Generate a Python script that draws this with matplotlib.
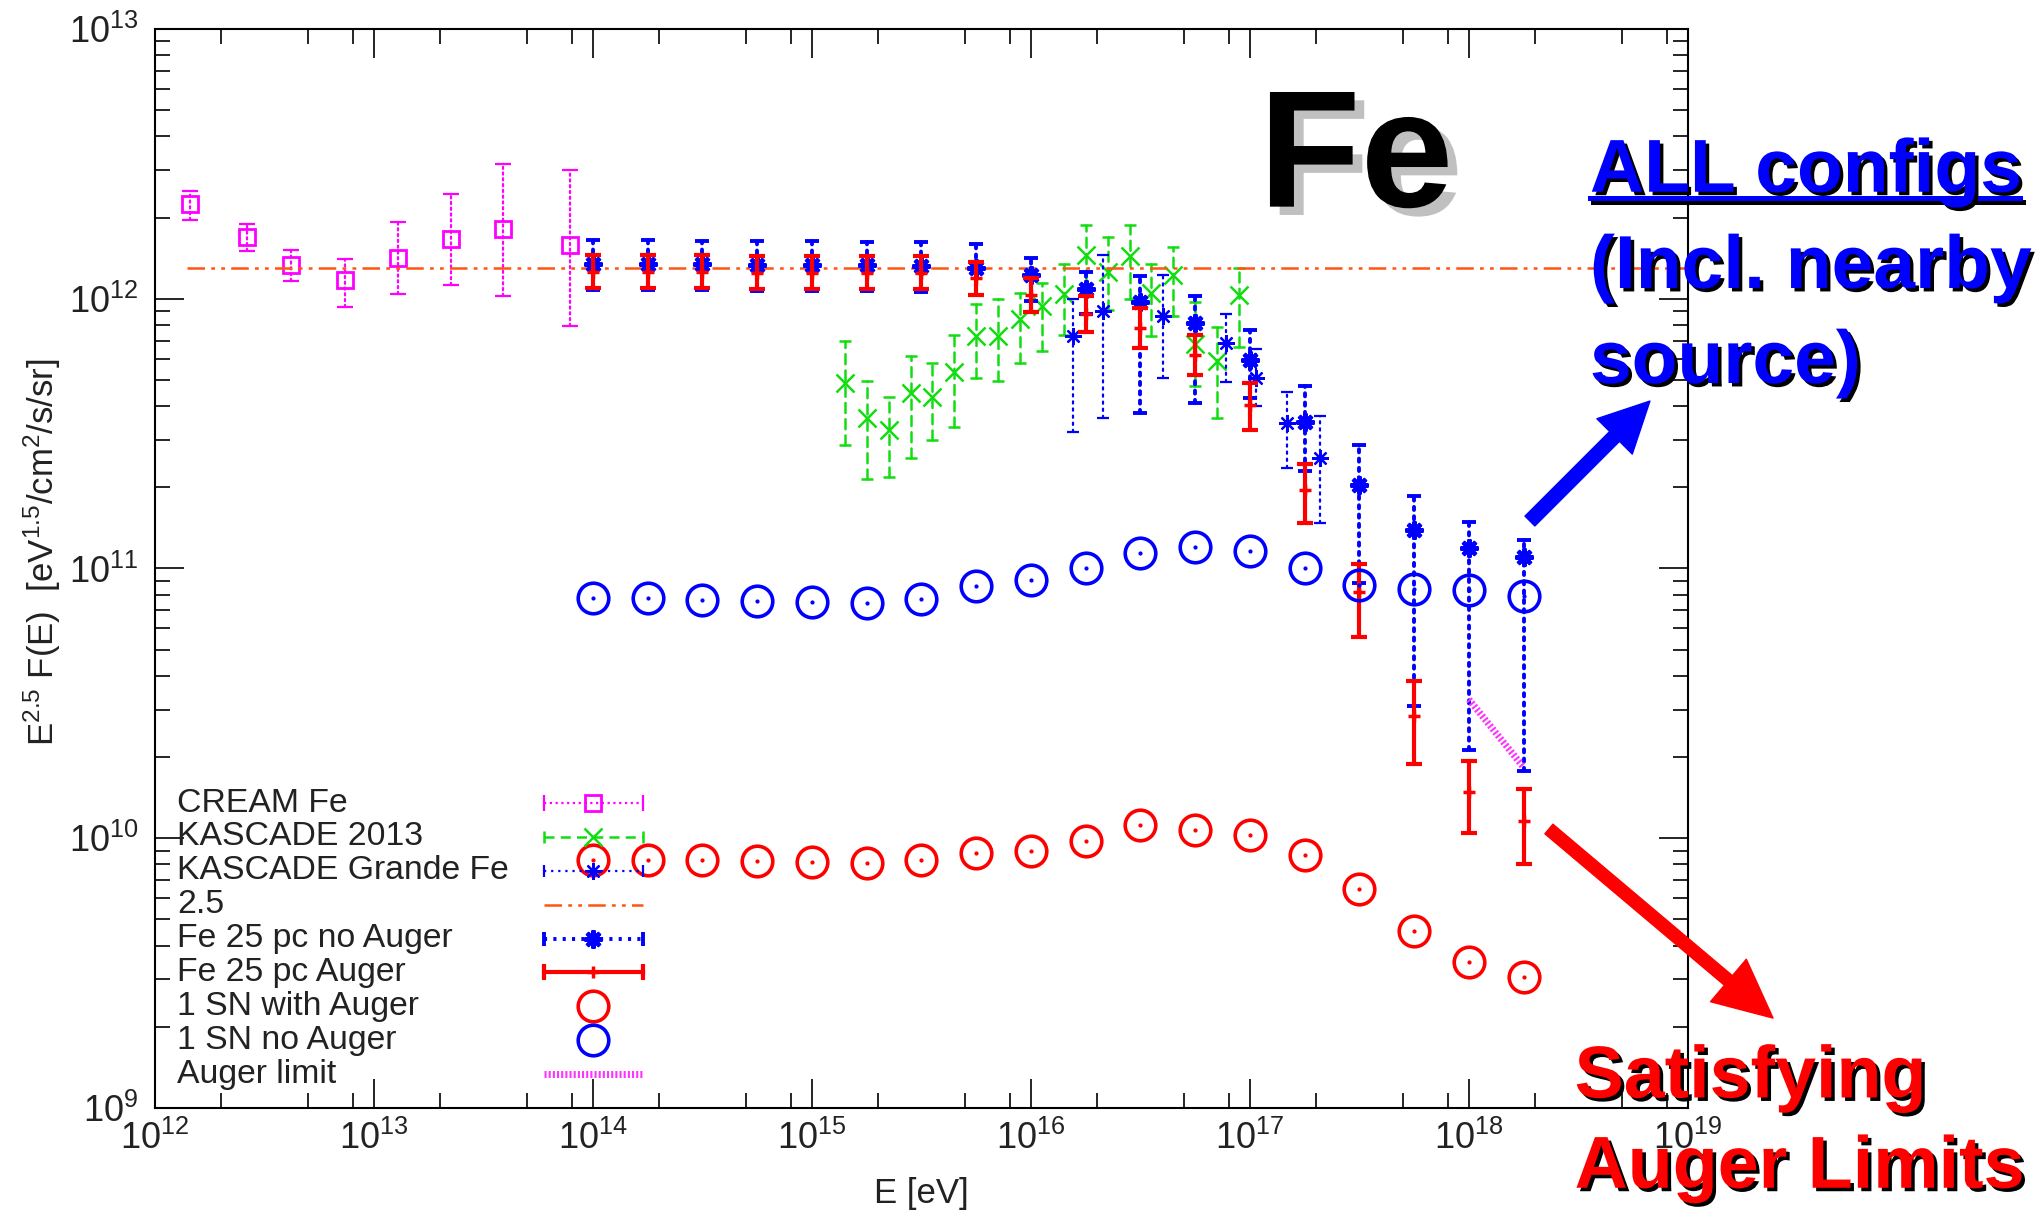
import numpy as np
import matplotlib
matplotlib.use("Agg")
import matplotlib.pyplot as plt
import matplotlib.patheffects as pe
from matplotlib.lines import Line2D
from matplotlib.patches import FancyArrowPatch
from matplotlib.ticker import LogLocator, NullFormatter

plt.rcParams['font.family'] = ['Liberation Sans', 'DejaVu Sans']
plt.rcParams['mathtext.fontset'] = 'custom'
plt.rcParams['mathtext.rm'] = 'Liberation Sans'
plt.rcParams['mathtext.it'] = 'Liberation Sans:italic'
plt.rcParams['mathtext.bf'] = 'Liberation Sans:bold'

# ===== 1. data =====
cream_E = [1.45e12, 2.63e12, 4.2e12, 7.4e12, 1.29e13, 2.24e13, 3.87e13, 7.9e13]
cream_F = [2.24e12, 1.69e12, 1.33e12, 1.17e12, 1.42e12, 1.67e12, 1.82e12, 1.58e12]
cream_lo = [1.95e12, 1.50e12, 1.16e12, 0.93e12, 1.04e12, 1.12e12, 1.02e12, 0.79e12]
cream_hi = [2.51e12, 1.89e12, 1.51e12, 1.40e12, 1.92e12, 2.45e12, 3.16e12, 2.99e12]

kas_E = [1.41e15, 1.78e15, 2.24e15, 2.82e15, 3.55e15, 4.47e15, 5.62e15, 7.08e15, 8.91e15,
         1.12e16, 1.41e16, 1.78e16, 2.24e16, 2.82e16, 3.55e16, 4.47e16, 5.62e16, 7.08e16, 8.91e16]
kas_F = [4.89e11, 3.6e11, 3.27e11, 4.47e11, 4.34e11, 5.37e11, 7.25e11, 7.28e11, 8.4e11,
         9.4e11, 1.04e12, 1.45e12, 1.26e12, 1.44e12, 1.05e12, 1.22e12, 6.8e11, 5.9e11, 1.03e12]
kas_lo = [2.87e11, 2.15e11, 2.19e11, 2.57e11, 3.0e11, 3.36e11, 5.1e11, 4.96e11, 5.8e11,
          6.4e11, 7.35e11, 1.02e12, 9.1e11, 1.0e12, 7.25e11, 8.6e11, 4.73e11, 3.6e11, 6.65e11]
kas_hi = [7.0e11, 4.97e11, 4.34e11, 6.14e11, 5.8e11, 7.35e11, 9.6e11, 1.0e12, 1.05e12,
          1.14e12, 1.35e12, 1.88e12, 1.7e12, 1.88e12, 1.35e12, 1.56e12, 9.75e11, 7.88e11, 1.3e12]

grande_E = [1.55e16, 2.13e16, 4.0e16, 7.76e16, 1.07e17, 1.48e17, 2.08e17]
grande_F = [7.3e11, 9.0e11, 8.6e11, 6.84e11, 5.1e11, 3.46e11, 2.57e11]
grande_lo = [3.2e11, 3.6e11, 5.1e11, 4.9e11, 4.0e11, 2.36e11, 1.48e11]
grande_hi = [1.0e12, 1.45e12, 1.22e12, 8.8e11, 6.5e11, 4.5e11, 3.67e11]

index_E = [1.4e12, 1.0e19]
index_F = [1.3e12, 1.3e12]

model_E = [1.0e14, 1.78e14, 3.16e14, 5.62e14, 1.0e15, 1.78e15, 3.16e15, 5.62e15, 1.0e16,
           1.78e16, 3.16e16, 5.62e16, 1.0e17, 1.78e17, 3.16e17, 5.62e17, 1.0e18, 1.78e18]

noaug_F = [1.35e12, 1.35e12, 1.34e12, 1.33e12, 1.33e12, 1.33e12, 1.32e12, 1.30e12, 1.22e12,
           1.09e12, 9.75e11, 8.1e11, 5.93e11, 3.5e11, 2.04e11, 1.39e11, 1.19e11, 1.10e11]
noaug_lo = [1.08e12, 1.08e12, 1.08e12, 1.07e12, 1.07e12, 1.07e12, 1.06e12, 1.03e12, 9.8e11,
            8.8e11, 3.77e11, 4.1e11, 4.3e11, 2.3e11, 8.8e10, 3.1e10, 2.13e10, 1.77e10]
noaug_hi = [1.65e12, 1.65e12, 1.64e12, 1.63e12, 1.63e12, 1.62e12, 1.62e12, 1.60e12, 1.41e12,
            1.26e12, 1.21e12, 1.02e12, 7.66e11, 4.73e11, 2.87e11, 1.85e11, 1.49e11, 1.28e11]

aug_F = [1.26e12, 1.26e12, 1.26e12, 1.25e12, 1.25e12, 1.25e12, 1.25e12, 1.19e12, 1.03e12,
         8.8e11, 7.78e11, 6.2e11, 4.05e11, 1.96e11, 8.2e10, 2.85e10, 1.48e10, 1.16e10]
aug_lo = [1.10e12, 1.10e12, 1.10e12, 1.09e12, 1.09e12, 1.09e12, 1.09e12, 1.03e12, 8.95e11,
          7.55e11, 6.55e11, 5.23e11, 3.27e11, 1.48e11, 5.56e10, 1.88e10, 1.05e10, 8.0e9]
aug_hi = [1.45e12, 1.45e12, 1.45e12, 1.44e12, 1.44e12, 1.44e12, 1.44e12, 1.37e12, 1.19e12,
          1.02e12, 9.2e11, 7.35e11, 4.87e11, 2.43e11, 1.04e11, 3.82e10, 1.93e10, 1.52e10]

sn_aug_F = [8.3e9, 8.3e9, 8.3e9, 8.24e9, 8.15e9, 8.1e9, 8.3e9, 8.8e9, 9.0e9,
            9.8e9, 1.12e10, 1.07e10, 1.03e10, 8.7e9, 6.46e9, 4.52e9, 3.47e9, 3.07e9]
sn_noaug_F = [7.8e10, 7.8e10, 7.67e10, 7.6e10, 7.54e10, 7.48e10, 7.73e10, 8.63e10, 9.1e10,
              1.0e11, 1.14e11, 1.2e11, 1.16e11, 1.0e11, 8.7e10, 8.41e10, 8.35e10, 7.94e10]

auger_E = [1.0e18, 1.78e18]
auger_F = [3.27e10, 1.83e10]

labels = ["CREAM Fe", "KASCADE 2013", "KASCADE Grande Fe", "2.5", "Fe 25 pc no Auger",
          "Fe 25 pc Auger", "1 SN with Auger", "1 SN no Auger", "Auger limit"]

# ===== 2. styles =====
MAG = '#ff00ff'
GRN = '#11dd11'
BLU = '#0000ff'
RED = '#ff0000'
ORG = '#ff5511'
ASTER = (8, 2, 0)
TXT = '#222222'

fig = plt.figure(figsize=(20.41, 12.12), dpi=100)
ax = fig.add_axes([0.0759, 0.0858, 0.7511, 0.8903])
ax.set_xscale('log')
ax.set_yscale('log')
ax.set_xlim(1e12, 1e19)
ax.set_ylim(1e9, 1e13)


def err_series(E, F, lo, hi, color, ls, lw, cap, marker, ms, mew, z):
    F = np.array(F)
    yerr = [F - np.array(lo), np.array(hi) - F]
    _, caps, bars = ax.errorbar(E, F, yerr=yerr, fmt='none', ecolor=color,
                                elinewidth=lw, capsize=cap, capthick=lw, zorder=z)
    bars[0].set_linestyle(ls)
    bars[0].set_capstyle('round')
    ax.plot(E, F, linestyle='none', marker=marker, ms=ms, mew=mew, mec=color,
            mfc='none', zorder=z)


# ===== 3. plot =====
err_series(cream_E, cream_F, cream_lo, cream_hi, MAG, (0, (1, 1.6)), 1.6, 5.5, 's', 12, 2.0, 3)
err_series(kas_E, kas_F, kas_lo, kas_hi, GRN, (0, (4, 2.5)), 1.8, 4, 'x', 13, 1.8, 3)
err_series(grande_E, grande_F, grande_lo, grande_hi, BLU, (0, (1, 2.2)), 1.6, 4, ASTER, 12, 1.6, 3)
ax.plot(index_E, index_F, color=ORG, lw=1.8, dashes=(7, 2.5, 1.5, 2.5, 1.5, 2.5), zorder=4)
err_series(model_E, noaug_F, noaug_lo, noaug_hi, BLU, (0, (0.8, 1.6)), 2.8, 5, ASTER, 13, 3.0, 5)
err_series(model_E, aug_F, aug_lo, aug_hi, RED, '-', 3.0, 6, '+', 9, 2.5, 6)
ax.plot(model_E, sn_aug_F, linestyle='none', marker='o', ms=22, mew=2.6, mec=RED, mfc='none', zorder=7)
ax.plot(model_E, sn_aug_F, linestyle='none', marker='.', ms=4, color=RED, zorder=7)
ax.plot(model_E, sn_noaug_F, linestyle='none', marker='o', ms=22, mew=2.6, mec=BLU, mfc='none', zorder=7)
ax.plot(model_E, sn_noaug_F, linestyle='none', marker='.', ms=4, color=BLU, zorder=7)
ax.plot(auger_E, auger_F, color='#ff33ff', lw=5, dashes=(0.3, 0.3), solid_capstyle='butt', zorder=8)

# ===== 4. gnuplot-like key =====
kx_text, kx0, kx1 = 0.0144, 0.2538, 0.3183
kxm = 0.5 * (kx0 + kx1)
ky_top, ky_step = 0.2826, 0.0314
tr = ax.transAxes


def key_err(y, color, ls, lw, cap, marker, ms, mew):
    ax.plot([kx0, kx1], [y, y], transform=tr, color=color, linestyle=ls, lw=lw, zorder=9)
    ax.plot([kx0, kx1], [y, y], transform=tr, linestyle='none', marker='|', ms=2 * cap,
            mew=lw, color=color, zorder=9)
    ax.plot([kxm], [y], transform=tr, linestyle='none', marker=marker, ms=ms, mew=mew,
            mec=color, mfc='none', zorder=9)


for i, lab in enumerate(labels):
    ax.text(kx_text, ky_top - i * ky_step, lab, transform=tr, fontsize=24.3,
            va='center', ha='left', color=TXT, zorder=9)

rows = [ky_top - i * ky_step for i in range(len(labels))]
key_err(rows[0], MAG, (0, (1, 1.6)), 1.6, 5.5, 's', 12, 2.0)
key_err(rows[1], GRN, (0, (4, 2.5)), 1.8, 4, 'x', 13, 1.8)
key_err(rows[2], BLU, (0, (1, 2.2)), 1.6, 4, ASTER, 12, 1.6)
ax.plot([kx0, kx1], [rows[3]] * 2, transform=tr, color=ORG, lw=1.8,
        dashes=(7, 2.5, 1.5, 2.5, 1.5, 2.5), zorder=9)
key_err(rows[4], BLU, (0, (0.8, 1.6)), 2.8, 5, ASTER, 13, 3.0)
key_err(rows[5], RED, '-', 3.0, 6, '+', 9, 2.5)
ax.plot([kxm], [rows[6]], transform=tr, linestyle='none', marker='o', ms=22, mew=2.6,
        mec=RED, mfc='none', zorder=9)
ax.plot([kxm], [rows[7]], transform=tr, linestyle='none', marker='o', ms=22, mew=2.6,
        mec=BLU, mfc='none', zorder=9)
ax.plot([kx0, kx1], [rows[8]] * 2, transform=tr, color='#ff33ff', lw=5, dashes=(0.3, 0.3),
        solid_capstyle='butt', zorder=9)

# ===== 5. axes =====
ax.xaxis.set_major_locator(LogLocator(base=10, numticks=20))
ax.xaxis.set_minor_locator(LogLocator(base=10, subs=[2, 5, 8], numticks=50))
ax.yaxis.set_major_locator(LogLocator(base=10, numticks=20))
ax.yaxis.set_minor_locator(LogLocator(base=10, subs=np.arange(2, 10), numticks=50))
ax.xaxis.set_minor_formatter(NullFormatter())
ax.yaxis.set_minor_formatter(NullFormatter())
ax.tick_params(which='both', direction='in', top=True, right=True, width=1.2,
               labelsize=26, labelcolor=TXT)
ax.tick_params(which='major', length=21)
ax.tick_params(which='minor', length=11)
ax.tick_params(axis='x', which='major', pad=9)
ax.tick_params(axis='y', which='major', pad=12)
for s in ax.spines.values():
    s.set_linewidth(1.5)

ax.set_xlabel('E [eV]', fontsize=25, color=TXT)
ax.xaxis.set_label_coords(0.5, -0.064)
ax.set_ylabel(r'E$^{2.5}$ F(E)  [eV$^{1.5}$/cm$^2$/s/sr]', fontsize=25, color=TXT)
ax.yaxis.set_label_coords(-0.060, 0.515)

# ===== 6. annotations =====
fig.text(0.6644, 0.8295, 'Fe', fontsize=120, fontweight='bold', ha='center', va='baseline',
         path_effects=[pe.withSimplePatchShadow(offset=(7, -6), shadow_rgbFace='#c0c0c0', alpha=1.0)])

blue_fx = [pe.withSimplePatchShadow(offset=(2.5, -2.5), shadow_rgbFace='k', alpha=1.0)]
for txt, yb in [('ALL configs', 0.8418), ('(Incl. nearby', 0.7624), ('source)', 0.684)]:
    fig.text(0.779, yb, txt, fontsize=54, fontweight='bold', color=BLU, ha='left',
             va='baseline', path_effects=blue_fx)
fig.add_artist(Line2D([0.779, 0.9897], [0.8366, 0.8366], transform=fig.transFigure, color=BLU,
                      lw=3.6, path_effects=[pe.SimpleLineShadow(offset=(2.5, -2.5), shadow_color='k',
                                                                alpha=1.0), pe.Normal()]))

red_fx = [pe.withSimplePatchShadow(offset=(2.5, -2.5), shadow_rgbFace='k', alpha=1.0)]
for txt, yb in [('Satisfying', 0.0945), ('Auger Limits', 0.0200)]:
    fig.text(0.7715, yb, txt, fontsize=53, fontweight='bold', color=RED, ha='left',
             va='baseline', path_effects=red_fx)

fig.add_artist(FancyArrowPatch((0.7496, 0.5701), (0.8084, 0.6691), transform=fig.transFigure,
                               arrowstyle='simple,head_length=36,head_width=36,tail_width=10',
                               mutation_scale=1, color=BLU, shrinkA=0, shrinkB=0))
fig.add_artist(FancyArrowPatch((0.7589, 0.316), (0.8687, 0.16), transform=fig.transFigure,
                               arrowstyle='simple,head_length=42,head_width=40,tail_width=9',
                               mutation_scale=1, color=RED, shrinkA=0, shrinkB=0))

fig.savefig('out.png', dpi=100)
